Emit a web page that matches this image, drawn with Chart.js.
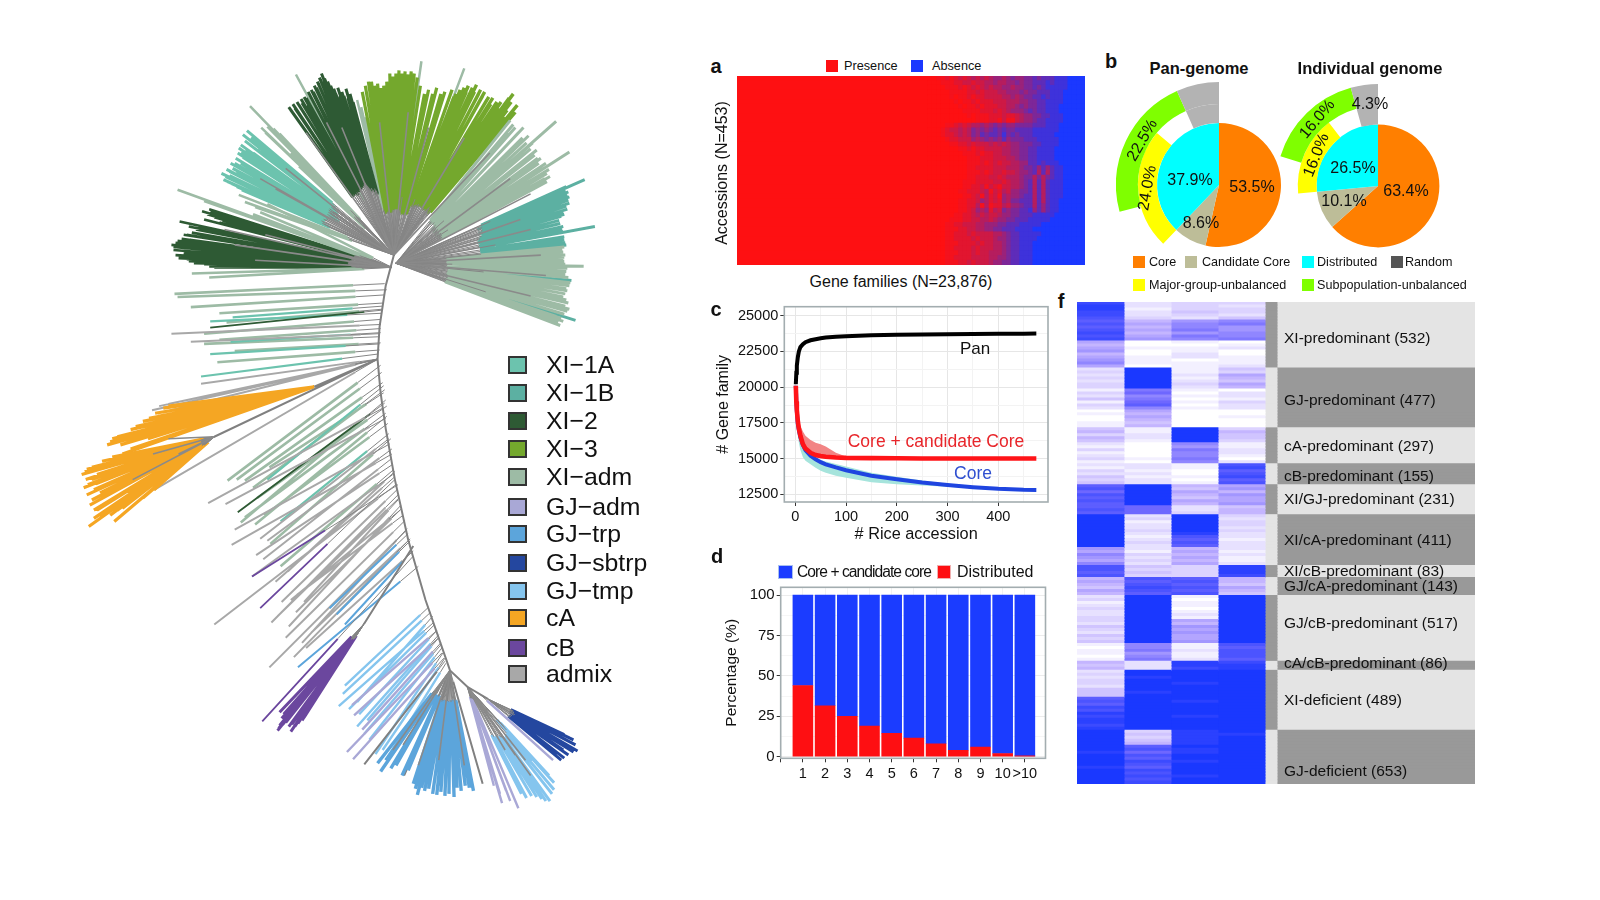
<!DOCTYPE html>
<html>
<head>
<meta charset="utf-8">
<title>Rice pan-genome</title>
<script src="https://cdn.jsdelivr.net/npm/chart.js@4"></script>
<style>
  html, body { margin: 0; background: #fff; width: 1600px; height: 900px; overflow: hidden; }
  canvas { position: absolute; }
  .t { position: absolute; white-space: nowrap; color: #111; font-family: "Liberation Sans", Arial, sans-serif; line-height: 1; }
  .s { position: absolute; box-sizing: border-box; }
</style>
</head>
<body>
<canvas id="tree" width="700" height="900" style="left:0;top:0"></canvas>
<canvas id="heatA" width="348" height="189" style="left:737px;top:76px"></canvas>
<canvas id="pieP" width="206" height="206" style="left:1116px;top:82px"></canvas>
<canvas id="pieI" width="204" height="204" style="left:1276px;top:84px"></canvas>
<canvas id="curves" width="336" height="245" style="left:714px;top:300px"></canvas>
<canvas id="bars" width="328" height="210" style="left:722px;top:580px"></canvas>
<canvas id="heatF" width="398" height="482" style="left:1077px;top:302px"></canvas>

<script>
// ---- tree: branch tips
const trunkPath = [[386,250],[378,280],[372,320],[370,352],[373,385],[378,420],[387,470],[400,529],[417,588],[441,657],[458,673],[478,685]];
const fanRootTop = [386,250];
const fanRootRight = [388,258];
const fanRootLeft = [384,262];
const xi1aTips = [[217,170],[221,173],[225,172],[228,165],[232,168],[236,160],[238,154],[242,156],[236,150],[234,145],[240,138],[238,132],[242,128],[246,135],[249,140],[252,147],[225,168],[230,160],[244,150],[255,155],[219,176],[223,178],[227,180],[232,183],[237,186],[222,166],[226,160],[231,155],[233,150],[236,142],[240,148],[245,142],[248,150],[250,156],[255,165],[258,172]];
const xiAdmTopTips = [[260,130],[266,128],[270,132],[274,131],[280,142],[285,150],[245,104],[234,191],[240,198],[250,203],[290,73],[350,98],[354,105],[358,115],[413,60],[455,67],[256,125],[262,124],[268,126],[276,134],[283,145],[288,155],[293,163]];
const xi2TopTips = [[283,105],[287,102],[291,100],[295,97],[298,95],[302,90],[305,88],[308,84],[311,80],[313,76],[315,72],[318,77],[321,80],[324,84],[327,87],[331,86],[335,90],[339,87],[343,92],[346,100],[285,108],[289,106],[293,103],[296,101],[300,96],[304,94],[307,90],[310,86],[312,82],[314,78],[316,80],[319,84],[323,90],[326,92],[329,92],[333,94],[337,94],[341,96],[345,104],[300,104]];
const xi3TopTips = [[355,90],[358,84],[361,80],[364,80],[367,84],[370,82],[373,86],[376,84],[379,80],[382,72],[385,75],[388,72],[391,69],[394,72],[397,70],[400,73],[403,70],[406,72],[409,76],[412,84],[416,92],[420,88],[424,92],[428,86],[432,92],[436,90]];
const xi3RightTips = [[443,88],[447,92],[451,88],[455,86],[459,84],[463,86],[467,83],[471,88],[475,90],[479,95],[483,96],[487,100],[491,100],[495,102],[499,96],[503,92],[507,103],[445,95],[449,94],[453,92],[457,90],[461,92],[465,90],[469,92],[473,94],[477,98],[481,102],[485,104],[489,106],[493,108],[497,108],[501,100],[505,110],[495,115]];
const xiAdmRightTips = [[500,118],[505,125],[513,125],[518,133],[522,140],[526,147],[530,155],[535,160],[538,166],[539,173],[536,178],[530,180],[520,170],[510,160],[545,119],[558,149],[527,155],[503,122],[508,130],[512,135],[516,140],[520,146],[524,152],[528,160],[532,165],[536,170],[534,175],[525,175],[515,168],[505,150],[498,130]];
const xi1bTips = [[555,183],[557,188],[558,193],[558,199],[556,205],[553,210],[549,219],[552,222],[552,227],[553,232],[554,238],[573,176],[583,222],[560,275],[564,314],[554,186],[556,191],[557,196],[555,202],[552,208],[550,212],[548,216],[551,225],[553,235],[555,240],[550,200],[548,192]];
const xiAdmLowTips = [[553,242],[552,247],[553,252],[553,256],[553,261],[572,261],[555,266],[558,280],[556,285],[552,291],[557,297],[558,303],[553,308],[549,319],[552,315],[551,244],[554,250],[552,254],[554,259],[556,263],[554,269],[557,272],[559,277],[555,283],[554,288],[555,294],[554,300],[556,305],[550,312],[547,316],[545,310]];
const xi2LeftTips = [[168,240],[170,245],[172,250],[175,253],[180,248],[185,256],[190,258],[195,258],[200,259],[205,261],[210,262],[176,217],[185,222],[192,225],[198,207],[203,210],[210,213],[196,232],[186,235],[180,230],[205,205],[215,218],[220,212],[175,240],[180,243],[190,243],[200,248],[212,252],[172,238],[174,236],[178,234],[183,230],[188,228],[194,222],[200,215],[206,208],[212,210],[218,216],[178,251],[183,254],[188,256],[193,256],[198,254],[203,255],[208,258],[170,242],[182,246],[195,250],[205,250],[215,255]];
const xiAdmLeftTips = [[174,186],[200,197],[188,268],[205,272],[262,200],[255,208],[248,210]];
const combAdm = [[377,278,171,288],[379,284,174,291],[377,289,187,301],[375,297,215,307],[373,313,200,327],[372,330,200,337],[372,343,213,355],[375,303,222,316],[373,322,215,333],[373,336,230,344],[373,358,223,471],[375,375,240,471],[378,405,240,507],[380,415,259,505],[386,460,275,555],[376,385,264,458],[379,398,252,488],[374,365,232,470],[377,382,248,478],[378,392,236,512],[379,408,250,514],[383,430,265,533]];
const combTeal = [[374,307,206,315],[372,337,206,347],[370,347,197,369],[375,300,228,311],[373,326,226,335],[381,425,275,511],[376,378,262,470]];
const combDark = [[374,304,206,321],[377,395,233,502]];
const combGray = [[373,318,168,327],[372,327,187,335],[370,352,197,376],[375,400,204,493],[378,410,221,494],[382,435,230,519],[384,445,227,534],[385,455,251,544],[385,465,247,565],[388,475,210,612],[390,485,266,610],[393,495,283,614],[398,520,264,654],[400,530,288,644],[392,500,285,588],[395,505,291,583],[387,462,282,560],[384,440,262,530],[381,430,255,528],[405,540,300,635],[390,490,298,590],[370,352,149,402],[370,352,156,398],[370,352,165,396],[370,352,160,404],[370,352,151,480],[389,480,276,590],[391,488,272,604],[394,498,290,600],[397,510,280,625],[399,518,296,630],[402,528,305,620],[386,468,270,570],[383,450,258,548]];
const combPurple = [[387,470,255,596],[390,475,247,565],[405,545,257,707]];
const orangeRootA = [308,379];
const orangeRootB = [210,428];
const cATipsA = [[110,430],[105,436],[115,428],[122,427],[128,421],[133,418],[140,413],[146,410],[152,405],[160,400],[128,440],[120,445],[108,433],[112,432],[118,436],[124,432],[130,430],[136,424],[142,418],[148,415],[155,408],[165,398],[135,438],[145,430]];
const cATipsB = [[80,465],[84,470],[82,478],[85,485],[92,480],[88,495],[95,500],[100,495],[87,516],[92,508],[97,505],[105,500],[112,511],[120,498],[130,490],[140,488],[151,480],[100,470],[112,478],[122,470],[85,460],[90,458],[100,452],[110,448],[95,465],[125,482],[83,462],[86,475],[90,470],[94,474],[98,483],[102,487],[106,480],[110,490],[116,486],[118,460],[130,470],[135,480],[90,490],[92,500],[100,505],[108,505],[115,500],[145,470]];
const cBRoot = [357,611];
const cBTips = [[272,716],[274,711],[276,704],[280,708],[283,712],[285,717],[289,712],[292,709],[296,706],[300,698],[305,690],[278,700],[274,698],[273,714],[277,710],[281,704],[286,710],[290,705],[294,700],[298,703],[302,690]];
const combTrp = [[400,523,323,596],[402,530,330,602],[410,555,292,654],[404,540,338,612]];
const combTmp = [[425,610,332,692],[420,595,338,672],[432,632,357,719],[430,625,360,706],[434,640,368,739],[424,604,350,688],[428,618,352,700],[422,600,336,680],[426,612,342,695],[430,622,350,712],[433,635,362,725],[436,645,375,735],[437,650,380,742]];
const combGjAdm = [[428,618,345,691],[430,625,347,701],[433,640,340,737],[435,645,346,744],[470,680,542,745],[432,630,355,715]];
const combGrayLow = [[436,648,357,749],[441,657,473,768],[441,657,396,760],[441,657,430,770],[441,657,412,765]];
const trpRoot = [441,657];
const trpTips = [[370,748],[373,756],[378,745],[383,753],[388,750],[394,760],[400,755],[405,768],[407,773],[409,779],[413,772],[416,775],[420,773],[424,778],[428,779],[432,776],[436,780],[440,778],[445,781],[448,772],[452,775],[456,770],[460,772],[464,775]];
const tmpRoot = [458,673];
const tmpTips = [[511,778],[516,782],[521,780],[526,781],[531,783],[535,785],[539,785],[541,778],[543,774],[543,767],[538,760],[530,752],[522,745]];
const gjAdmFanTips = [[490,778],[492,787],[500,785],[508,792],[484,770],[496,775]];
const sbtrpRoot = [478,685];
const sbtrpTips = [[553,720],[558,723],[562,725],[564,730],[566,736],[562,737],[557,740],[553,743],[550,745],[545,740],[548,727],[555,730],[552,735]];
// inner gray branches that run on top of the coloured fans
const streaksTop = [[300,130],[320,120],[335,125],[372,120],[400,110],[420,125],[455,135],[480,150],[270,185],[255,175],[280,165]];
const streaksRight = [[520,190],[500,175],[520,225],[530,250],[535,270],[520,290],[510,215]];
const streaksLeft = [[230,240],[250,255],[220,225],[260,230]];
const streaksCA = [[150,445],[165,430],[130,470],[175,445]];
const streaksTrp = [[410,750],[430,745],[395,730],[455,750],[385,735]];
const streaksTmp = [[505,740],[515,745],[495,735],[520,760]];

const treeLegend = ['XI−1A','XI−1B','XI−2','XI−3','XI−adm','GJ−adm','GJ−trp','GJ−sbtrp','GJ−tmp','cA','cB','admix'];
const treeColors = ['#6CC3AE','#5CB0A2','#2E5A34','#74A82D','#9DBBA5','#A9A8D6','#5CA5DB','#24479F','#85C5EE','#F5A623','#6B479E','#A8A8A8'];

// ---- panel a: share of absence per column (0 red .. 9 blue), one string per row of accessions
const aColumnWidths = [13035, ...Array(34).fill(300), 641];
const aRows = [
"0011212323434345545655667677788899","0001112233233445445565667778788899",
"0000111212323434455455667678888899","0000011112232333445556566777888999",
"0000010112122333344545667787888999","0000001011212223334445566778888999",
"0000000101121222334456566778889999","0000000011112223234555676778889999",
"0000000001011122232234556677888999","0000000000011122131134556778888999",
"0000112323445456565566667778889999","0001233434656567676677778888889999",
"0001223434657677686767778888899999","0000122333545656575666777888889999",
"0000011223233343434556667788889999","0000000112122333344556677888899999",
"0000000011121223344556677888899999","0000000001112223334456677888899999",
"0000000001112123233445577878889999","0000000001122223334445667575788999",
"0000000001112123323345567474788999","0000000001122233234445664646788999",
"0000000011122223323445674747888999","0000000011223132133445674747888999",
"0000000112223413243556674747888999","0000000011231423154556774747888999",
"0000000112235423254667774747889999","0000000112241412243556774757889999",
"0000000112354524365667785757889999","0000001122343433455667778888899999",
"0000011122334434556677788888999999","0000112233344555667778888899999999",
"0000111223344556677788889999999999","0000112223233334456778888899999999",
"0000112222323334556778888999999999","0000111222232334456778889999999999",
"0000112222323334456778889999999999","0000111222323344456778889999999999",
"0000112222333344556778889999999999","0000111223233345566778889999999999"];

// ---- panel b
const panInner = [53.5, 8.6, 37.9];
const panYellowRing = [62.1, 24.0, 7.2, 6.7];
const panGreenRing = [70.8, 22.5, 6.7];
const indInner = [63.4, 10.1, 26.5];
const indYellowRing = [73.5, 16.0, 6.2, 4.3];
const indGreenRing = [79.7, 16.0, 4.3];

// ---- panel c
const accessions = [1,2,3,5,7,10,15,20,30,40,50,60,80,100,150,200,250,300,350,400,450,475];
const panCurve = [20200,21000,21500,22100,22500,22800,23000,23150,23280,23350,23420,23470,23530,23570,23630,23670,23690,23700,23715,23730,23745,23750];
const panLow = [20200,20800,21300,21900,22250,22600,22850,23020,23200,23300,23380,23450,23520,23560,23625,23665,23690,23700,23715,23730,23745,23750];
const candCurve = [20100,19000,18400,17600,17100,16600,16000,15700,15400,15250,15180,15130,15080,15050,15030,15020,15010,15010,15010,15010,15010,15010];
const candUp = [20100,19400,18900,18200,17800,17300,16900,16600,16300,16100,16000,15850,15400,15150,15060,15040,15020,15020,15020,15020,15020,15020];
const candLow = [20100,18600,18000,17200,16700,16100,15650,15400,15180,15080,15020,15000,15000,15000,15000,15000,15000,15000,15000,15000,15000,15000];
const coreCurve = [20100,19000,18300,17400,17000,16500,15950,15600,15200,14950,14750,14600,14380,14180,13800,13550,13330,13150,13000,12880,12810,12800];
const coreUp = [20100,19000,18300,17400,16900,16400,15900,15500,15200,15000,14900,14800,14620,14450,14000,13720,13470,13240,13060,12920,12830,12810];
const coreLow = [20100,18300,17500,16600,16100,15600,15100,14850,14600,14350,14150,14000,13800,13650,13350,13200,13120,13020,12930,12830,12790,12790];
const cYTicks = [12500,13750,15000,16250,17500,18750,20000,21250,22500,23750,25000];

// ---- panel d
const dLabels = ['1','2','3','4','5','6','7','8','9','10','>10'];
const distributedPct = [44,31.5,25,19,14.5,11.5,8,4,6,2,0.5];
const corePct = [56,68.5,75,81,85.5,88.5,92,96,94,98,99.5];

// ---- panel f: one row per string, one hex digit per column (0 white .. f blue)
const fGroupSizes = [22,20,12,7,10,17,4,6,22,3,20,18];
const fRows = [
'd233','e232','e133','d243','d232','c324','b578','c689','b587','c697','d578','c698','d789','6010','5001','6112','7010','5020','6121','7101','8111','6012',
'2f14','3f13','2f26','3f15','2f24','3f36','3f25','1910','3a02','2812','4901','1a13','3b02','2812','0600','1500','0601','0500','1400','1500',
'41f3','51f5','32f4','52f4','41f3','2081','1071','3092','1082','2081','3190','1082',
'221c','121d','310b','220c','411d','320b','421c',
'bf56','cf47','af65','cf57','bf46','cf66','bf57','ba24','ca25','ba35',
'f2f3','f3f2','f1f3','f2f3','f2f2','f3f3','f2e2','f1c2','f2b1','f3c2','f2b2','7252','6161','8352','7261','6351','8262',
'c43e','c33e','b43e','c33d',
'5cb5','6bc5','5cb4','4dc6','6cb5','5bc4',
'2f1f','3f0f','1f1f','2f1f','3f0f','2f1f','2f2f','3f1f','3f6f','2f5f','4f7f','3f6f','2f7f','4f6f','3f6f','4f7f','181c','081b','192c','171c','081c','192b',
'52ed','42ee','52de',
'2fff','3fff','2eff','3fff','3fef','2fff','4fff','4eff','4fff','bfff','cfef','bfff','dfff','cfff','efff','dfef','efff','efff','dfff','efff',
'f3ef','f4ee','f3ef','f4ef','f5ef','fbff','fcef','eaef','fcff','fbff','fdef','fcff','ebff','fdff','fcff','fdef','fcff','fdff'];
const fLabels = ['XI-predominant (532)','GJ-predominant (477)','cA-predominant (297)','cB-predominant (155)','XI/GJ-predominant (231)','XI/cA-predominant (411)','XI/cB-predominant (83)','GJ/cA-predominant (143)','GJ/cB-predominant (517)','cA/cB-predominant (86)','XI-deficient (489)','GJ-deficient (653)'];

Chart.defaults.font.family = '"Liberation Sans", Arial, sans-serif';
Chart.defaults.color = '#111';
Chart.defaults.animation = false;
Chart.defaults.responsive = false;
Chart.defaults.plugins.legend.display = false;
Chart.defaults.plugins.tooltip.enabled = false;

// ---- tree
function fan(root, tips, start) {
  const gray = [], coloured = [];
  tips.forEach(t => {
    const mx = root[0] + (t[0] - root[0]) * start, my = root[1] + (t[1] - root[1]) * start;
    gray.push({x: root[0], y: root[1]}, {x: mx, y: my}, {x: NaN, y: NaN});
    coloured.push({x: mx, y: my}, {x: t[0], y: t[1]}, {x: NaN, y: NaN});
  });
  return {gray, coloured};
}
function comb(list, start) {
  const gray = [], coloured = [];
  list.forEach(b => {
    const mx = b[0] + (b[2] - b[0]) * start, my = b[1] + (b[3] - b[1]) * start;
    gray.push({x: b[0], y: b[1]}, {x: mx, y: my}, {x: NaN, y: NaN});
    coloured.push({x: mx, y: my}, {x: b[2], y: b[3]}, {x: NaN, y: NaN});
  });
  return {gray, coloured};
}
const [c1a, c1b, c2, c3, cAdm, cGa, cTrp, cSb, cTmp, cOr, cPu, cMix] = treeColors;
const parts = [
  [fan(fanRootTop, xi1aTips, 0.42), c1a, 3],
  [fan(fanRootTop, xiAdmTopTips, 0.3), cAdm, 2.5],
  [fan(fanRootTop, xi2TopTips, 0.4), c2, 3],
  [fan(fanRootTop, xi3TopTips, 0.25), c3, 3.2],
  [fan(fanRootTop, xi3RightTips, 0.3), c3, 3.4],
  [fan(fanRootRight, xiAdmRightTips, 0.3), cAdm, 3],
  [fan(fanRootRight, xi1bTips, 0.5), c1b, 3],
  [fan(fanRootRight, xiAdmLowTips, 0.3), cAdm, 3],
  [fan(fanRootLeft, xi2LeftTips, 0.2), c2, 2.6],
  [fan(fanRootLeft, xiAdmLeftTips, 0.15), cAdm, 2.6],
  [comb(combAdm, 0.15), cAdm, 2.6],
  [comb(combTeal, 0.2), c1a, 2.2],
  [comb(combDark, 0.1), c2, 1.8],
  [comb(combGray, 0.1), cMix, 2],
  [comb(combPurple, 0.5), cPu, 1.8],
  [fan(orangeRootA, cATipsA, 0), cOr, 3.2],
  [fan(orangeRootB, cATipsB, 0.1), cOr, 3.2],
  [fan(cBRoot, cBTips, 0.15), cPu, 3],
  [comb(combTrp, 0.15), cTrp, 2],
  [comb(combTmp, 0.1), cTmp, 2.4],
  [comb(combGjAdm, 0.1), cGa, 2.4],
  [comb(combGrayLow, 0.1), '#808080', 2],
  [fan(trpRoot, trpTips, 0.25), cTrp, 3.4],
  [fan(tmpRoot, tmpTips, 0.45), cTmp, 3],
  [fan(tmpRoot, gjAdmFanTips, 0.1), cGa, 2.4],
  [fan(sbtrpRoot, sbtrpTips, 0.3), cSb, 3],
];
const streakSets = [
  [fanRootTop, streaksTop], [fanRootRight, streaksRight], [fanRootLeft, streaksLeft],
  [orangeRootB, streaksCA], [trpRoot, streaksTrp], [tmpRoot, streaksTmp]
];
const treeDatasets = [];
treeDatasets.push({
  data: trunkPath.map(p => ({x: p[0], y: p[1]})),
  borderColor: '#808080', borderWidth: 2, pointRadius: 0, showLine: true
});
// stems to the sub-fans
treeDatasets.push({
  data: [{x:370,y:352},{x:orangeRootA[0],y:orangeRootA[1]},{x:NaN,y:NaN},{x:370,y:352},{x:orangeRootB[0],y:orangeRootB[1]},{x:NaN,y:NaN},{x:405,y:535},{x:cBRoot[0],y:cBRoot[1]},{x:NaN,y:NaN}],
  borderColor: '#808080', borderWidth: 2, pointRadius: 0, showLine: true
});
streakSets.forEach(s => treeDatasets.push({data: fan(s[0], s[1], 1).gray, borderColor: '#8A8A8A', borderWidth: 1.6, pointRadius: 0, showLine: true}));
parts.forEach(p => treeDatasets.push({data: p[0].gray, borderColor: '#858585', borderWidth: 1, pointRadius: 0, showLine: true}));
parts.slice().reverse().forEach(p => treeDatasets.push({data: p[0].coloured, borderColor: p[1], borderWidth: p[2], pointRadius: 0, showLine: true}));

new Chart(document.getElementById('tree'), {
  type: 'scatter',
  data: {datasets: treeDatasets},
  options: {
    layout: {padding: 0, autoPadding: false},
    scales: {
      x: {display: false, min: 0, max: 686},
      y: {display: false, min: 0, max: 882, reverse: true}
    }
  }
});

// ---- panel a
const mix = (a, b, t) => 'rgb(' + a.map((v, i) => Math.round(v + (b[i] - v) * t)).join(',') + ')';
const aRed = [254,16,18], aBlue = [27,56,255];
new Chart(document.getElementById('heatA'), {
  type: 'bar',
  data: {
    labels: aRows.map((r, i) => i),
    datasets: aColumnWidths.map((w, col) => ({
      data: aRows.map(() => w),
      backgroundColor: aRows.map(r => {
        if (col === 0) return mix(aRed, aBlue, 0);
        if (col === aColumnWidths.length - 1) return mix(aRed, aBlue, 1);
        return mix(aRed, aBlue, Math.pow(Number(r[col - 1]) / 9, 1.4));
      }),
      borderWidth: 0, inflateAmount: 0.5, categoryPercentage: 1, barPercentage: 1
    }))
  },
  options: {
    indexAxis: 'y',
    layout: {padding: 0, autoPadding: false},
    scales: {
      x: {display: false, stacked: true, min: 0, max: 23876},
      y: {display: false, stacked: true}
    }
  }
});

// ---- panel b
function pie(id, inner, yellowRing, greenRing) {
  new Chart(document.getElementById(id), {
    type: 'doughnut',
    data: {
      datasets: [
        {data: greenRing, weight: 22, borderWidth: 0, backgroundColor: ['rgba(0,0,0,0)','#7FFF00','#B3B3B3']},
        {data: yellowRing, weight: 19, borderWidth: 0, backgroundColor: ['rgba(0,0,0,0)','#FFFF00','rgba(0,0,0,0)','#B3B3B3']},
        {data: inner, weight: 62, borderWidth: 0, backgroundColor: ['#FF7F00','#BDBD98','#00FFFF']}
      ]
    },
    options: {cutout: 0, layout: {padding: 0, autoPadding: false}}
  });
}
pie('pieP', panInner, panYellowRing, panGreenRing);
pie('pieI', indInner, indYellowRing, indGreenRing);

// ---- panels c, d
const framePlugin = {
  id: 'frame',
  afterDatasetsDraw(chart) {
    const a = chart.chartArea, ctx = chart.ctx;
    ctx.save();
    ctx.strokeStyle = '#A3ADB0';
    ctx.lineWidth = 1.6;
    ctx.strokeRect(a.left, a.top, a.right - a.left, a.bottom - a.top);
    ctx.restore();
  }
};
// fixed axis box, no extra room for half tick labels
function fixBox(s, size) {
  if (s.isHorizontal()) s.height = size; else s.width = size;
  s.paddingTop = s.paddingBottom = s.paddingLeft = s.paddingRight = 0;
}
const pts = ys => accessions.map((x, i) => ({x, y: ys[i]}));
const thin = {borderWidth: 0, pointRadius: 0};
new Chart(document.getElementById('curves'), {
  type: 'line',
  data: {
    datasets: [
      {data: pts(panCurve), borderColor: '#000', borderWidth: 4, pointRadius: 0},
      {data: pts(candCurve), borderColor: '#FF1418', borderWidth: 4.6, pointRadius: 0},
      {data: pts(coreCurve), borderColor: '#1F45E0', borderWidth: 4, pointRadius: 0},
      {data: pts(candUp), ...thin, fill: '+1', backgroundColor: 'rgba(240,110,110,0.85)'},
      {data: pts(candLow), ...thin},
      {data: pts(coreUp), ...thin, fill: '+1', backgroundColor: '#A6E4DC'},
      {data: pts(coreLow), ...thin},
      {data: pts(panCurve), ...thin, fill: '+1', backgroundColor: '#A6E4DC'},
      {data: pts(panLow), ...thin}
    ]
  },
  options: {
    layout: {autoPadding: false, padding: {top: 6.7, right: 2}},
    scales: {
      x: {
        type: 'linear', min: -21.7, max: 498,
        afterFit: s => fixBox(s, 43),
        ticks: {
          stepSize: 50, includeBounds: false, autoSkip: false, maxRotation: 0, padding: 2,
          font: {size: 14.5},
          callback: v => (v % 100 === 0 ? String(v) : '')
        },
        grid: {
          color: c => (c.tick && c.tick.value % 100 === 0 ? '#E6E6E6' : '#F3F3F3'),
          tickColor: c => (c.tick && c.tick.value % 100 === 0 ? '#333' : 'rgba(0,0,0,0)'),
          tickLength: 4
        },
        border: {display: false},
        title: {display: true, text: '# Rice accession', font: {size: 16.3}, padding: 1}
      },
      y: {
        min: 11961, max: 25630,
        afterFit: s => fixBox(s, 70.3),
        afterBuildTicks: s => { s.ticks = cYTicks.map(v => ({value: v})); },
        ticks: {
          autoSkip: false, padding: 2,
          font: {size: 14.5},
          callback: v => (v % 2500 === 0 ? String(v) : '')
        },
        grid: {
          color: c => (c.tick && c.tick.value % 2500 === 0 ? '#E6E6E6' : '#F3F3F3'),
          tickColor: c => (c.tick && c.tick.value % 2500 === 0 ? '#333' : 'rgba(0,0,0,0)'),
          tickLength: 4
        },
        border: {display: false},
        title: {display: true, text: '# Gene family', font: {size: 16}, padding: 0}
      }
    }
  },
  plugins: [framePlugin]
});

new Chart(document.getElementById('bars'), {
  type: 'bar',
  data: {
    datasets: [
      {data: distributedPct.map((v, i) => ({x: i + 1, y: v})), backgroundColor: '#FE0F12', barThickness: 20, inflateAmount: 0.3},
      {data: corePct.map((v, i) => ({x: i + 1, y: v})), backgroundColor: '#1B3CFF', barThickness: 20, inflateAmount: 0.3}
    ]
  },
  options: {
    layout: {autoPadding: false, padding: {top: 7.3, right: 4.5}},
    scales: {
      x: {
        type: 'linear', stacked: true, min: 0, max: 11.93, offset: false,
        afterFit: s => fixBox(s, 31.7),
        ticks: {
          stepSize: 1, includeBounds: false, autoSkip: false, maxRotation: 0, padding: 3,
          font: {size: 14.5},
          callback: v => dLabels[v - 1] || ''
        },
        grid: {offset: false, color: '#F1F1F1', tickColor: '#333', tickLength: 4},
        border: {display: false}
      },
      y: {
        stacked: true, min: -1, max: 104.8,
        afterFit: s => fixBox(s, 58.7),
        ticks: {
          stepSize: 12.5, includeBounds: false, autoSkip: false, padding: 2,
          font: {size: 15},
          callback: v => (v % 25 === 0 ? String(v) : '')
        },
        grid: {
          color: c => (c.tick && c.tick.value % 25 === 0 ? '#ECECEC' : '#F6F6F6'),
          tickColor: c => (c.tick && c.tick.value % 25 === 0 ? '#333' : 'rgba(0,0,0,0)'),
          tickLength: 4
        },
        border: {display: false},
        title: {display: true, text: 'Percentage (%)', font: {size: 15.5}, padding: 0}
      }
    }
  },
  plugins: [framePlugin]
});

// ---- panel f
const heatStops = [[255,255,255],[196,181,255],[110,103,255],[26,56,255]];
function heatColor(d) {
  const v = parseInt(d, 16) / 5, i = Math.min(2, Math.floor(v));
  return mix(heatStops[i], heatStops[i + 1], v - i);
}
const rowGroup = [];
fGroupSizes.forEach((n, g) => { for (let i = 0; i < n; i++) rowGroup.push(g); });
const sideWidth = 0.255, labelWidth = 4.21;
const fDatasets = [0, 1, 2, 3].map(col => ({
  data: fRows.map(() => 1),
  backgroundColor: fRows.map(r => heatColor(r[col]))
}));
fDatasets.push({data: fRows.map(() => sideWidth), backgroundColor: rowGroup.map(g => (g % 2 ? '#E4E4E4' : '#999999'))});
fDatasets.push({data: fRows.map(() => labelWidth), backgroundColor: rowGroup.map(g => (g % 2 ? '#999999' : '#E4E4E4'))});
fDatasets.forEach(d => Object.assign(d, {borderWidth: 0, inflateAmount: 0.4, categoryPercentage: 1, barPercentage: 1}));
new Chart(document.getElementById('heatF'), {
  type: 'bar',
  data: {labels: fRows.map((r, i) => i), datasets: fDatasets},
  options: {
    indexAxis: 'y',
    layout: {padding: 0, autoPadding: false},
    scales: {
      x: {display: false, stacked: true, min: 0, max: 4 + sideWidth + labelWidth},
      y: {display: false, stacked: true}
    }
  }
});

// ---- text and legends
function txt(str, x, y, size, opt) {
  opt = opt || {};
  const el = document.createElement('div');
  el.className = 't';
  el.textContent = str;
  el.style.left = x + 'px';
  el.style.top = y + 'px';
  el.style.fontSize = size + 'px';
  if (opt.bold) el.style.fontWeight = 'bold';
  if (opt.color) el.style.color = opt.color;
  if (opt.spacing) el.style.letterSpacing = opt.spacing + 'px';
  el.style.transform = (opt.left ? 'translate(0,-50%)' : 'translate(-50%,-50%)') + (opt.rot ? ' rotate(' + opt.rot + 'deg)' : '');
  document.body.appendChild(el);
}
function box(x, y, w, h, color, border) {
  const el = document.createElement('div');
  el.className = 's';
  el.style.cssText = 'left:' + x + 'px;top:' + y + 'px;width:' + w + 'px;height:' + h + 'px;background:' + color + (border ? ';border:' + border : '');
  document.body.appendChild(el);
}

const treeLegendY = [365,393,421,449,477,507,534,563,591,618,648,674];
treeLegend.forEach((name, i) => {
  box(508, treeLegendY[i] - 9, 19, 18, treeColors[i], '2px solid #333');
  txt(name, 546, treeLegendY[i], 24.8, {left: true});
});

txt('a', 716, 66, 20, {bold: true});
txt('b', 1111, 61, 20, {bold: true});
txt('c', 716, 309, 20, {bold: true});
txt('d', 717, 556, 20, {bold: true});
txt('f', 1061, 301, 20, {bold: true});

box(826, 60, 12, 12, '#FE0F12');
txt('Presence', 844, 66, 12.7, {left: true});
box(911, 60, 12, 12, '#1B38FF');
txt('Absence', 932, 66, 12.7, {left: true});
txt('Accessions (N=453)', 722, 173, 16, {rot: -90});
txt('Gene families (N=23,876)', 901, 282, 16);

txt('Pan-genome', 1199, 68, 16.5, {bold: true});
txt('Individual genome', 1370, 68, 16.5, {bold: true});
txt('53.5%', 1252, 187, 16);
txt('37.9%', 1190, 180, 16);
txt('8.6%', 1201, 223, 16);
txt('24.0%', 1147, 188, 16, {rot: -80});
txt('22.5%', 1142, 140, 16, {rot: -60});
txt('63.4%', 1406, 191, 16);
txt('26.5%', 1353, 168, 16);
txt('10.1%', 1344, 201, 16);
txt('4.3%', 1370, 104, 16);
txt('16.0%', 1316, 155, 16, {rot: -68});
txt('16.0%', 1317, 119, 16, {rot: -50});

box(1133, 256, 12, 12, '#FF7F00');
txt('Core', 1149, 262, 12.6, {left: true});
box(1185, 256, 12, 12, '#BDBD98');
txt('Candidate Core', 1202, 262, 12.6, {left: true});
box(1302, 256, 12, 12, '#00FFFF');
txt('Distributed', 1317, 262, 12.6, {left: true});
box(1391, 256, 12, 12, '#555555');
txt('Random', 1405, 262, 12.6, {left: true});
box(1133, 279, 12, 12, '#FFFF00');
txt('Major-group-unbalanced', 1149, 285, 12.6, {left: true});
box(1302, 279, 12, 12, '#7FFF00');
txt('Subpopulation-unbalanced', 1317, 285, 12.6, {left: true});

txt('Pan', 975, 348, 17);
txt('Core + candidate Core', 936, 442, 17.5, {color: '#E8252A'});
txt('Core', 973, 474, 17.5, {color: '#2F4FD0'});

box(778, 565, 15, 14, '#1B3CFF', '1px solid #A9C0F0');
txt('Core + candidate core', 797, 572, 15.6, {left: true, spacing: -0.95});
box(937, 565, 14, 14, '#FE0F12', '1px solid #F0B0B0');
txt('Distributed', 957, 572, 16, {left: true});

const fLabelY = [338,400,446,476,499,540,571,586,623,663,700,771];
fLabels.forEach((name, i) => txt(name, 1284, fLabelY[i], 15.5, {left: true}));
</script>
</body>
</html>
